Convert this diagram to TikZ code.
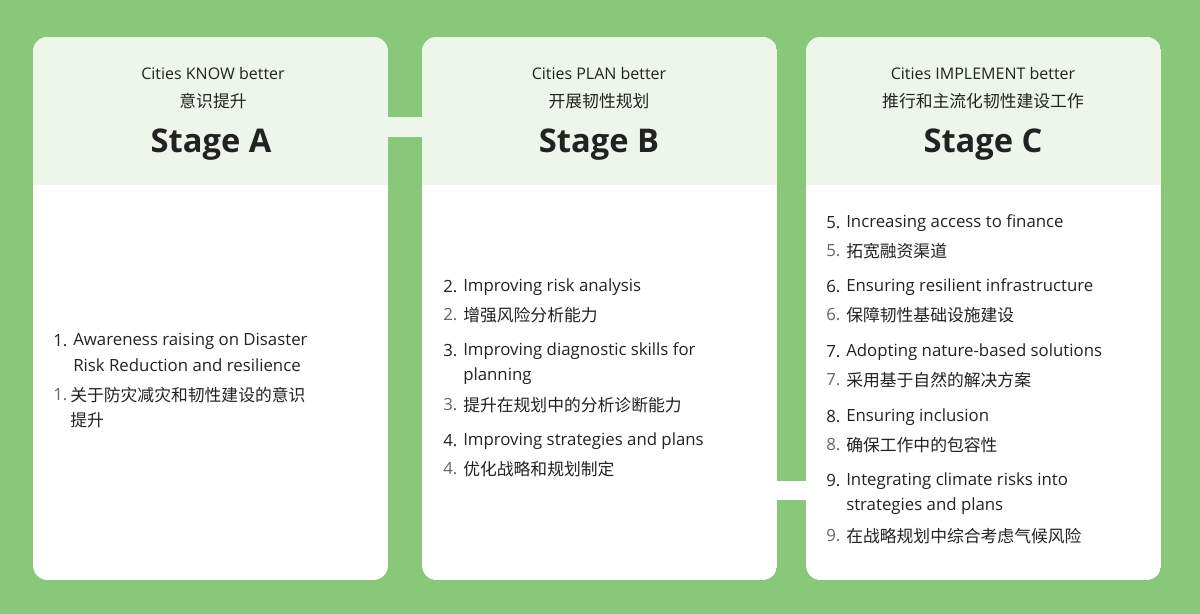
\documentclass[tikz,border=0pt]{standalone}
\usepackage{fontspec}
\setmainfont{Open Sans}
\newfontfamily\cjk{Noto Sans CJK SC}
\definecolor{bg}{HTML}{88C878}
\definecolor{hd}{HTML}{EEF6EC}
\definecolor{tx}{HTML}{222222}
\definecolor{nm}{HTML}{666666}
\begin{document}
\begin{tikzpicture}[x=0.75pt,y=-0.75pt,
  card/.style={fill=white,rounded corners=11pt},
  en/.style={anchor=west,inner sep=0,text=tx,font=\fontsize{12.6}{15}\selectfont},
  zh/.style={anchor=west,inner sep=0,text=tx,font=\cjk\fontsize{12.6}{15}\selectfont},
  num/.style={anchor=west,inner sep=0,font=\fontsize{12.6}{15}\selectfont},
  ht/.style={inner sep=0,text=tx,font=\fontsize{12}{14}\selectfont},
  hz/.style={inner sep=0,text=tx,font=\cjk\fontsize{12.6}{14}\selectfont},
  st/.style={inner sep=0,text=tx,font=\bfseries\fontsize{24.5}{28}\selectfont}]
\fill[bg] (0,0) rectangle (1200,614);
\useasboundingbox (0,0) rectangle (1200,614);
% connectors
\fill[hd] (380,117) rectangle (430,137);
\fill[white] (770,481) rectangle (815,500);
\foreach \n/\x in {A/33,B/422,C/806}{
  \begin{scope}
  \clip[rounded corners=11pt] (\x,37) rectangle ++(355,543);
  \fill[white] (\x,37) rectangle ++(355,543);
  \fill[hd] (\x,37) rectangle ++(355,148);
  \end{scope}
}
\node[ht] (ha) at (213,73) {Cities KNOW better};
\node[hz] (za) at (213,101) {意识提升};
\node[st] (sa) at (211,145) {Stage A};
\node[ht] (hb) at (599,73) {Cities PLAN better};
\node[hz] (zb) at (599,101) {开展韧性规划};
\node[st] (sb) at (599,145) {Stage B};
\node[ht] (hc) at (983,73) {Cities IMPLEMENT better};
\node[hz] (zc) at (983,101) {推行和主流化韧性建设工作};
\node[st] (sc) at (983,145) {Stage C};
% A
\node[num,text=tx] (a1) at (53,341) {1.};
\node[en] (a1t) at (73,341) {Awareness raising on Disaster};
\node[en] (a1u) at (73,365) {Risk Reduction and resilience};
\node[num,text=nm] (a1n) at (53,395) {1.};
\node[zh] (a1z) at (70,395) {关于防灾减灾和韧性建设的意识};
\node[zh] (a1y) at (70,420) {提升};
% B
\newcommand\itm[6]{%
 \node[num,text=tx] (#1e) at (#2,#3) {#4.};
 \node[en] (#1t) at (#2+20,#3) {#5};
 \node[num,text=nm] (#1n) at (#2,#3+28) {#4.};
 \node[zh] (#1z) at (#2+20,#3+28) {#6};}
\itm{b2}{443}{287}{2}{Improving risk analysis}{增强风险分析能力}
\node[num,text=tx] (b3e) at (443,351) {3.};
\node[en] (b3t) at (463,351) {Improving diagnostic skills for};
\node[en] (b3u) at (463,376) {planning};
\node[num,text=nm] (b3n) at (443,405) {3.};
\node[zh] (b3z) at (463,405) {提升在规划中的分析诊断能力};
\itm{b4}{443}{441}{4}{Improving strategies and plans}{优化战略和规划制定}
% C
\itm{c5}{826}{223}{5}{Increasing access to finance}{拓宽融资渠道}
\itm{c6}{826}{287}{6}{Ensuring resilient infrastructure}{保障韧性基础设施建设}
\itm{c7}{826}{352}{7}{Adopting nature-based solutions}{采用基于自然的解决方案}
\itm{c8}{826}{417}{8}{Ensuring inclusion}{确保工作中的包容性}
\node[num,text=tx] (c9e) at (826,481) {9.};
\node[en] (c9t) at (846,481) {Integrating climate risks into};
\node[en] (c9u) at (846,506) {strategies and plans};
\node[num,text=nm] (c9n) at (826,536) {9.};
\node[zh] (c9z) at (846,536) {在战略规划中综合考虑气候风险};
\end{tikzpicture}
\end{document}
